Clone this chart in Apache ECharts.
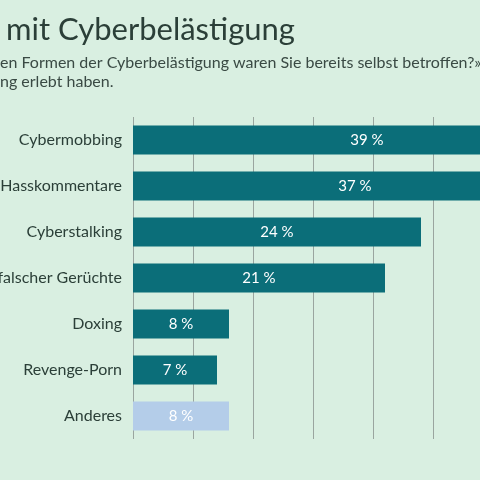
<!DOCTYPE html>
<html>
<head>
<meta charset="utf-8">
<script src="https://cdn.jsdelivr.net/npm/echarts@6/dist/echarts.min.js"></script>
<style>
  html, body { margin: 0; padding: 0; background: #d9efe1; }
  #chart { width: 480px; height: 480px; }
</style>
</head>
<body>
<div id="chart"></div>
<script>
const categories = ['Cybermobbing', 'Hasskommentare', 'Cyberstalking', 'Verbreitung falscher Gerüchte', 'Doxing', 'Revenge-Porn', 'Anderes']
const values = [39, 37, 24, 21, 8, 7, 8]
const barColors = ['#0b6e79', '#0b6e79', '#0b6e79', '#0b6e79', '#0b6e79', '#0b6e79', '#b4cde9']
const font = 'Lato'

const chart = echarts.init(document.getElementById('chart'))
chart.setOption({
  backgroundColor: '#d9efe1',
  textStyle: { fontFamily: font },
  graphic: [
    { type: 'text', left: 6, top: 14, style: { text: 'mit Cyberbelästigung', fontSize: 31, fill: '#2b3f38', fontFamily: font } },
    { type: 'text', left: 0, top: 55, style: { text: 'en Formen der Cyberbelästigung waren Sie bereits selbst betroffen?» – Nur', fontSize: 16, fill: '#3a4a44', fontFamily: font } },
    { type: 'text', left: 0, top: 74, style: { text: 'ng erlebt haben.', fontSize: 16, fill: '#3a4a44', fontFamily: font } }
  ],
  grid: { left: 133, top: 117, width: 480, height: 322, containLabel: false, outerBoundsMode: 'none' },
  xAxis: {
    type: 'value', min: 0, max: 40, interval: 5,
    axisLabel: { show: false }, axisLine: { show: false }, axisTick: { show: false },
    splitLine: { lineStyle: { color: '#9aa59f', width: 1 } }
  },
  yAxis: {
    type: 'category', data: categories, inverse: true,
    axisLine: { show: false }, axisTick: { show: false },
    axisLabel: { fontSize: 16, color: '#2b3f38', margin: 11, fontFamily: font }
  },
  series: [{
    type: 'bar',
    data: values.map((v, i) => ({ value: v, itemStyle: { color: barColors[i] } })),
    barWidth: 29,
    label: { show: true, position: 'inside', color: '#fff', fontSize: 15, fontFamily: font, formatter: p => p.value + ' %' }
  }]
})
</script>
</body>
</html>
